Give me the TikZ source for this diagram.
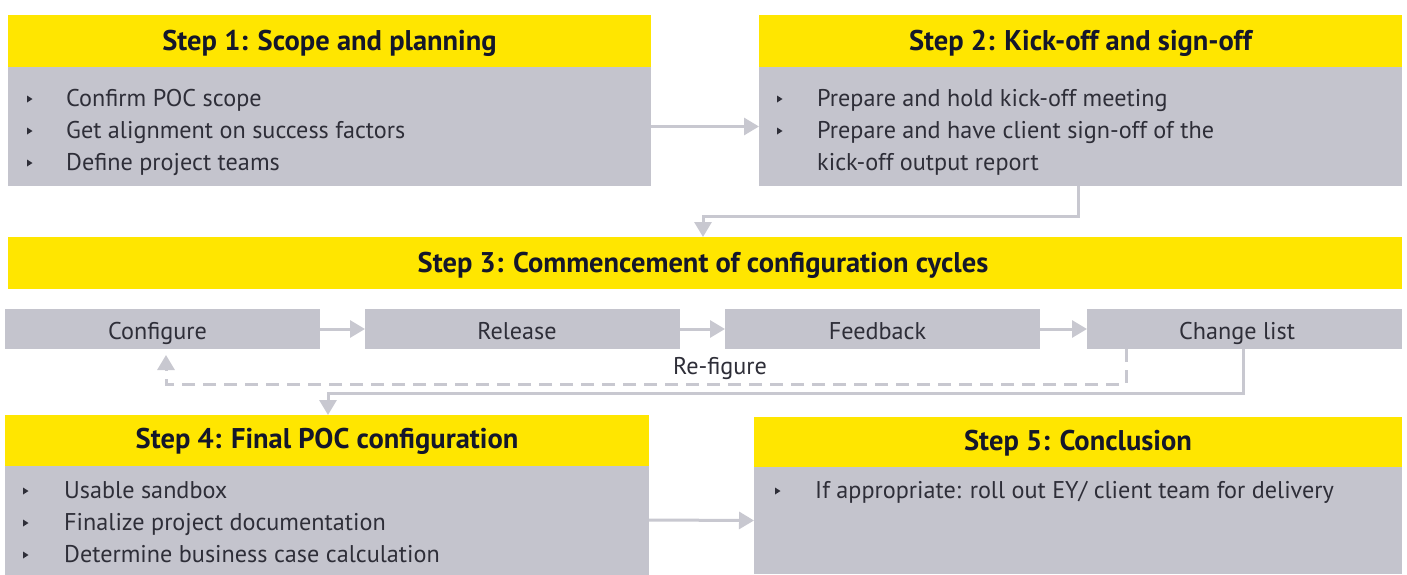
\documentclass[tikz,border=0pt]{standalone}
\usepackage{fontspec}
\setmainfont{PT Sans}
\usetikzlibrary{arrows.meta}
\definecolor{eyy}{HTML}{FFE600}
\definecolor{eyg}{HTML}{C4C4CD}
\definecolor{eyl}{HTML}{C8C8D0}
\definecolor{eyt}{HTML}{2E2E38}
\definecolor{eyd}{HTML}{14172B}
\newcommand\bult[2]{\fill[eyt] (#1,#2-10.5) -- (#1+5.5,#2-7) -- (#1,#2-3.5) -- cycle;}
\begin{document}
\begin{tikzpicture}[x=1pt,y=-1pt,
  hdr/.style={fill=eyy, draw=none, anchor=north west, inner sep=0, outer sep=0},
  bodybox/.style={fill=eyg, draw=none, anchor=north west, inner sep=0, outer sep=0},
  ttl/.style={anchor=base, text=eyd, font=\fontsize{28.5}{32}\selectfont\bfseries, inner sep=0},
  txt/.style={anchor=base west, text=eyt, font=\fontsize{24.2}{28}\selectfont, inner sep=0},
  ctr/.style={anchor=base, text=eyt, font=\fontsize{24.2}{28}\selectfont, inner sep=0},
  conn/.style={draw=eyl, line width=3pt, -{Triangle[length=15pt,width=17pt]}},
  dconn/.style={conn, dash pattern=on 13pt off 8pt, shorten >=6pt}
]
\useasboundingbox[fill=white] (0,0) rectangle (1407,574);

% Step 1
\node[hdr, minimum width=643pt, minimum height=52pt] (s1h) at (8,15) {};
\node[bodybox, minimum width=643pt, minimum height=119pt] (s1body) at (8,67) {};
\node[ttl] (t1) at (329.5,50) {Step 1: Scope and planning};
\bult{27}{106}\node[txt] (s1l1) at (66,106) {Confirm POC scope};
\bult{27}{138}\node[txt] (s1l2) at (66,138) {Get alignment on success factors};
\bult{27}{170}\node[txt] (s1l3) at (66,170) {Define project teams};

% Step 2
\node[hdr, minimum width=643pt, minimum height=52pt] (s2h) at (759,15) {};
\node[bodybox, minimum width=643pt, minimum height=119pt] (s2body) at (759,67) {};
\node[ttl] (t2) at (1080.5,50) {Step 2: Kick-off and sign-off};
\bult{777}{106}\node[txt] (s2l1) at (817,106) {Prepare and hold kick-off meeting};
\bult{777}{138}\node[txt] (s2l2) at (817,138) {Prepare and have client sign-off of the};
\node[txt] (s2l3) at (817,170) {kick-off output report};

% Step 3
\node[hdr, minimum width=1394pt, minimum height=52pt] (s3) at (8,237) {};
\node[ttl] (t3) at (703,272) {Step 3: Commencement of configuration cycles};

% cycle row
\node[bodybox, minimum width=315pt, minimum height=40pt] (cfg) at (5,309) {};
\node[bodybox, minimum width=315pt, minimum height=40pt] (rel) at (365,309) {};
\node[bodybox, minimum width=315pt, minimum height=40pt] (fb) at (725,309) {};
\node[bodybox, minimum width=315pt, minimum height=40pt] (cl) at (1087,309) {};
\node[ctr] (cfgt) at (157.5,339) {Configure};
\node[ctr] (relt) at (517,339) {Release};
\node[ctr] (fbt) at (877.5,339) {Feedback};
\node[ctr] (clt) at (1237,339) {Change list};
\node[ctr] (ref) at (720,374) {Re-figure};

% Step 4
\node[hdr, minimum width=644pt, minimum height=51pt] (s4h) at (5,415) {};
\node[bodybox, minimum width=644pt, minimum height=109pt] (s4body) at (5,465.5) {};
\node[ttl] (t4) at (327,448.5) {Step 4: Final POC configuration};
\bult{23}{498}\node[txt] (s4l1) at (64,498) {Usable sandbox};
\bult{23}{530}\node[txt] (s4l2) at (64,530) {Finalize project documentation};
\bult{23}{562}\node[txt] (s4l3) at (64,562) {Determine business case calculation};

% Step 5
\node[hdr, minimum width=648pt, minimum height=50pt] (s5h) at (754,417) {};
\node[bodybox, minimum width=648pt, minimum height=107pt] (s5body) at (754,467) {};
\node[ttl] (t5) at (1078,450) {Step 5: Conclusion};
\bult{775}{498}\node[txt] (s5l1) at (815,498) {If appropriate: roll out EY/ client team for delivery};

% connectors
\draw[conn] (s1body.east) -- (s2body.west);
\draw[conn] ([xshift=-324pt]s2body.south east) -- ++(0,30.5) -| ([xshift=695pt]s3.north west);
\draw[conn] (cfg.east) -- (rel.west);
\draw[conn] (rel.east) -- (fb.west);
\draw[conn] (fb.east) -- (cl.west);
\draw[dconn] ([xshift=39pt]cl.south west) -- ++(0,35) -| ([xshift=161pt]cfg.south west);
\draw[conn] ([xshift=156pt]cl.south west) -- ++(0,44) -| ([xshift=323pt]s4h.north west);
\draw[conn] (s4body.east) -- (s5body.west);
\end{tikzpicture}
\end{document}
